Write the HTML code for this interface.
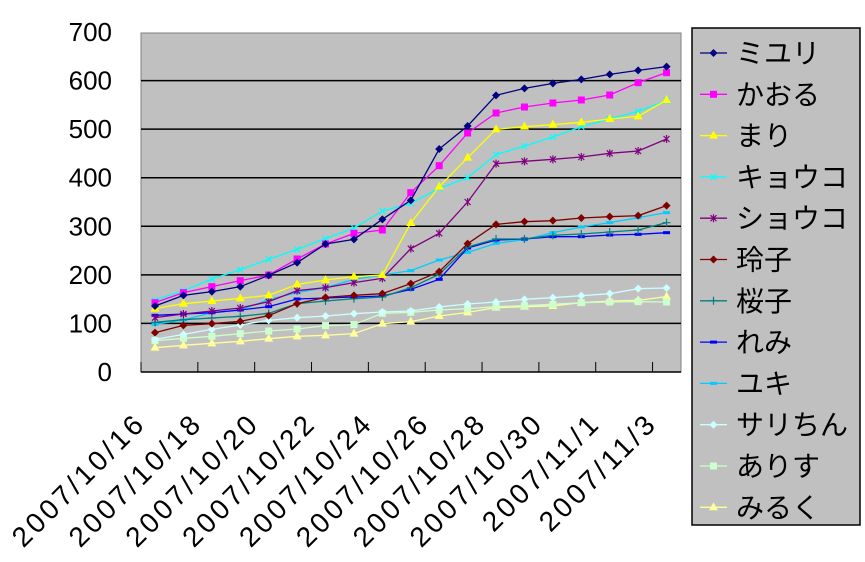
<!DOCTYPE html>
<html><head><meta charset="utf-8"><style>
body{margin:0;background:#fff;}
svg text{font-family:"Liberation Sans","Noto Sans CJK JP",sans-serif;fill:#000;}
</style></head><body>
<svg id="s" width="865" height="557" xmlns="http://www.w3.org/2000/svg">
<rect x="141" y="33" width="540" height="339" fill="#C0C0C0" stroke="#808080" stroke-width="1"/>
<g id="grid"></g>
<g id="ser"></g>
<rect x="692" y="28" width="168" height="497" fill="#C0C0C0" stroke="#000" stroke-width="1.5"/>
<g id="leg"></g>
<g id="lab"></g>
</svg>
<script>
const NS="http://www.w3.org/2000/svg";
function el(t,a,p,txt){const e=document.createElementNS(NS,t);for(const k in a)e.setAttribute(k,a[k]);if(txt!==undefined)e.textContent=txt;document.getElementById(p).appendChild(e);return e;}
for(let v=0;v<=700;v+=100){const y=372-v*0.4857;
 if(v>0&&v<700)el('line',{x1:141,x2:681,y1:y,y2:y,stroke:'#000','stroke-width':1.5},'grid');
 el('text',{x:112,y:y+9,'font-size':26,'text-anchor':'end'},'lab',String(v));}
el('line',{x1:141,x2:681,y1:372,y2:372,stroke:'#000','stroke-width':1.5},'grid');
for(let i=0;i<=19;i+=2){const x=141+i*28.42;el('line',{x1:x,x2:x,y1:362,y2:372,stroke:'#000','stroke-width':1},'grid');}
const dates=["2007/10/16","2007/10/18","2007/10/20","2007/10/22","2007/10/24","2007/10/26","2007/10/28","2007/10/30","2007/11/1","2007/11/3"];
dates.forEach((d,k)=>{const cx=155+k*2*28.42-10;const y=427;
 const t=el('text',{x:cx,y:y,'font-size':28,'text-anchor':'end',transform:`rotate(-45 ${cx} ${y})`},'lab',d);
 t.setAttribute('textLength',d.length==10?172:150);});
const S=[
["ミユリ","#000080","d",[858,826,815,800,766,728,672,658,598,541,387,318,226,205,190,178,163,151,140]],
["かおる","#FF00FF","s",[848,818,800,782,765,717,672,640,630,518,437,339,279,261,249,240,225,188,158]],
["まり","#FFFF00","t",[866,851,843,835,826,793,780,770,765,609,500,413,328,320,314,307,297,289,240]],
["キョウコ","#00FFFF","x",[840,812,777,749,718,688,656,624,573,550,505,473,404,378,351,320,297,274,242]],
["ショウコ","#800080","*",[893,882,873,864,845,812,803,788,775,686,640,546,431,424,418,411,400,393,357]],
["玲子","#800000","d",[938,916,911,904,887,851,832,826,821,791,755,671,613,605,602,594,590,587,557]],
["桜子","#008080","+",[907,899,894,889,880,851,843,836,831,803,763,681,657,657,646,642,636,630,608]],
["れみ","#0000FF","-",[886,882,878,870,860,837,834,831,828,808,778,684,660,657,650,650,645,643,638]],
["ユキ","#00CCFF","-",[913,900,878,870,839,818,803,778,765,752,720,697,670,659,638,621,608,593,578]],
["サリちん","#CCFFFF","d",[958,943,928,915,901,893,888,881,876,873,861,852,846,838,833,827,821,806,804]],
["ありす","#CCFFCC","s",[962,955,949,941,933,927,917,914,880,877,870,866,860,857,853,848,846,845,846]],
["みるく","#FFFF99","t",[983,976,970,964,956,949,946,941,911,905,888,877,863,860,858,848,843,841,830]]];
function mark(m,x,y,c,p){
 if(m=='d')el('polygon',{points:`${x},${y-4} ${x+4},${y} ${x},${y+4} ${x-4},${y}`,fill:c},p);
 else if(m=='s')el('rect',{x:x-3.5,y:y-3.5,width:7,height:7,fill:c},p);
 else if(m=='t')el('polygon',{points:`${x},${y-5} ${x+4.5},${y+3} ${x-4.5},${y+3}`,fill:c},p);
 else if(m=='x'){el('path',{d:`M${x-3},${y-3}L${x+3},${y+3}M${x-3},${y+3}L${x+3},${y-3}`,stroke:c,'stroke-width':1.2},p);}
 else if(m=='*'){el('path',{d:`M${x-3},${y-3}L${x+3},${y+3}M${x-3},${y+3}L${x+3},${y-3}M${x},${y-4}L${x},${y+4}`,stroke:c,'stroke-width':1.2},p);}
 else if(m=='+'){el('path',{d:`M${x-4},${y}L${x+4},${y}M${x},${y-4}L${x},${y+4}`,stroke:c,'stroke-width':1.2},p);}
 else if(m=='-'){el('rect',{x:x-3.5,y:y-1.5,width:7,height:3,fill:c},p);}
}
for(let si=S.length-1;si>=0;si--){const [n,c,m,ys]=S[si];
 const pts=ys.map((yz,i)=>[155+i*28.42,20+yz/3]);
 el('polyline',{points:pts.map(p=>p.join(',')).join(' '),fill:'none',stroke:c,'stroke-width':1.3},'ser');
 pts.forEach(p=>mark(m,p[0],p[1],c,'ser'));}
S.forEach(([n,c,m],i)=>{const y=53+i*41.3;
 el('line',{x1:700,x2:727,y1:y,y2:y,stroke:c,'stroke-width':1.3},'leg');
 mark(m,713.5,y,c,'leg');
 el('text',{x:736,y:y+10,'font-size':28},'leg',n);});
</script>
</body></html>
